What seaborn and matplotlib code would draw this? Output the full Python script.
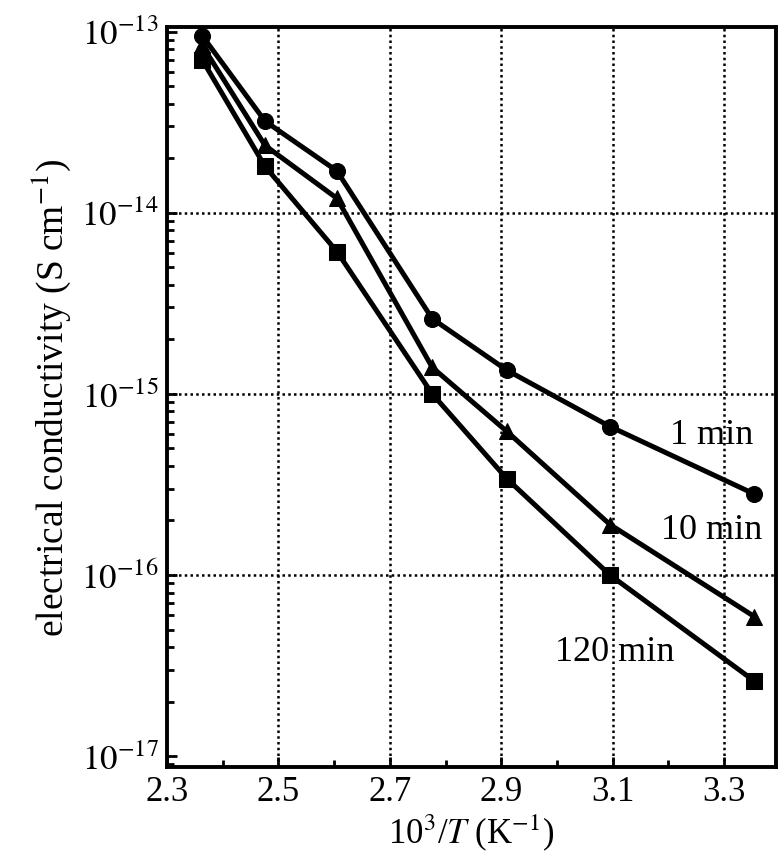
import numpy as np
import pandas as pd
import matplotlib
matplotlib.use("Agg")
import matplotlib.pyplot as plt
import seaborn as sns
from matplotlib.ticker import FixedLocator, LogLocator, NullFormatter, FuncFormatter

# ---- data ----
inv_T = [2.363, 2.476, 2.605, 2.776, 2.910, 3.095, 3.354]
cond_1min = [9.5e-14, 3.2e-14, 1.7e-14, 2.6e-15, 1.35e-15, 6.6e-16, 2.8e-16]
cond_10min = [8.4e-14, 2.35e-14, 1.2e-14, 1.4e-15, 6.2e-16, 1.9e-16, 5.9e-17]
cond_120min = [7.0e-14, 1.8e-14, 6.1e-15, 1.0e-15, 3.4e-16, 1.0e-16, 2.6e-17]
series_names = ["1 min", "10 min", "120 min"]
x_ticks = [2.3, 2.5, 2.7, 2.9, 3.1, 3.3]
y_ticks = [1e-17, 1e-16, 1e-15, 1e-14, 1e-13]

df = pd.concat([
    pd.DataFrame({"x": inv_T, "y": vals, "series": name})
    for name, vals in zip(series_names, [cond_1min, cond_10min, cond_120min])
], ignore_index=True)

sns.set_theme(style="white")
plt.rcParams["font.family"] = ["Liberation Serif", "DejaVu Serif"]
plt.rcParams["mathtext.fontset"] = "stix"

fig = plt.figure(figsize=(7.81, 8.53), dpi=100)
ax = fig.add_axes([0.2138, 0.0996, 0.9936 - 0.2138, 0.9672 - 0.0996])

sns.lineplot(data=df, x="x", y="y", hue="series", style="series",
             palette={n: "black" for n in series_names},
             markers={"1 min": "o", "10 min": "^", "120 min": "s"},
             dashes=False, sort=False, linewidth=3.6, markersize=11.5,
             markeredgecolor="black", legend=False, ax=ax, zorder=3)

ax.set_yscale("log")
ax.set_xlim(2.3, 3.393)
ax.set_ylim(10**-17.06, 10**-12.975)

ax.xaxis.set_major_locator(FixedLocator(x_ticks))
ax.xaxis.set_minor_locator(FixedLocator([2.4, 2.6, 2.8, 3.0, 3.2]))
ax.yaxis.set_major_locator(FixedLocator(y_ticks))
ax.yaxis.set_minor_locator(LogLocator(base=10, subs=np.arange(2, 10) * 1.0, numticks=20))
ax.yaxis.set_minor_formatter(NullFormatter())
ax.xaxis.set_major_formatter(FuncFormatter(lambda v, p: f"{v:.1f}"))
ax.yaxis.set_major_formatter(FuncFormatter(lambda v, p: r"$10^{%d}$" % int(round(np.log10(v)))))

for xv in x_ticks[1:]:
    ax.axvline(xv, color="black", linestyle=(0, (1, 1.3)), linewidth=1.8, zorder=1)
for yv in [1e-16, 1e-15, 1e-14]:
    ax.axhline(yv, color="black", linestyle=(0, (1, 1.3)), linewidth=1.8, zorder=1)

ax.tick_params(axis="both", which="both", direction="in", color="black",
               labelsize=25, labelcolor="black")
ax.tick_params(axis="both", which="major", length=7, width=2, pad=6)
ax.tick_params(axis="both", which="minor", length=5, width=2)
ax.tick_params(axis="x", which="both", bottom=True, top=False)
ax.tick_params(axis="y", which="both", left=True, right=False)

for s in ax.spines.values():
    s.set_visible(True)
    s.set_color("black")
    s.set_linewidth(2.8)

ax.set_xlabel(r"10$^3$/$T$ (K$^{-1}$)", fontsize=25, color="black", labelpad=2)
ax.set_ylabel(r"electrical conductivity (S cm$^{-1}$)", fontsize=27, color="black", labelpad=6)

ax.text(3.278, 6.0e-16, "1 min", fontsize=26, ha="center", va="center", color="black")
ax.text(3.278, 1.78e-16, "10 min", fontsize=26, ha="center", va="center", color="black")
ax.text(3.103, 3.8e-17, "120 min", fontsize=26, ha="center", va="center", color="black")

fig.savefig("out.png", dpi=100, facecolor="white")
